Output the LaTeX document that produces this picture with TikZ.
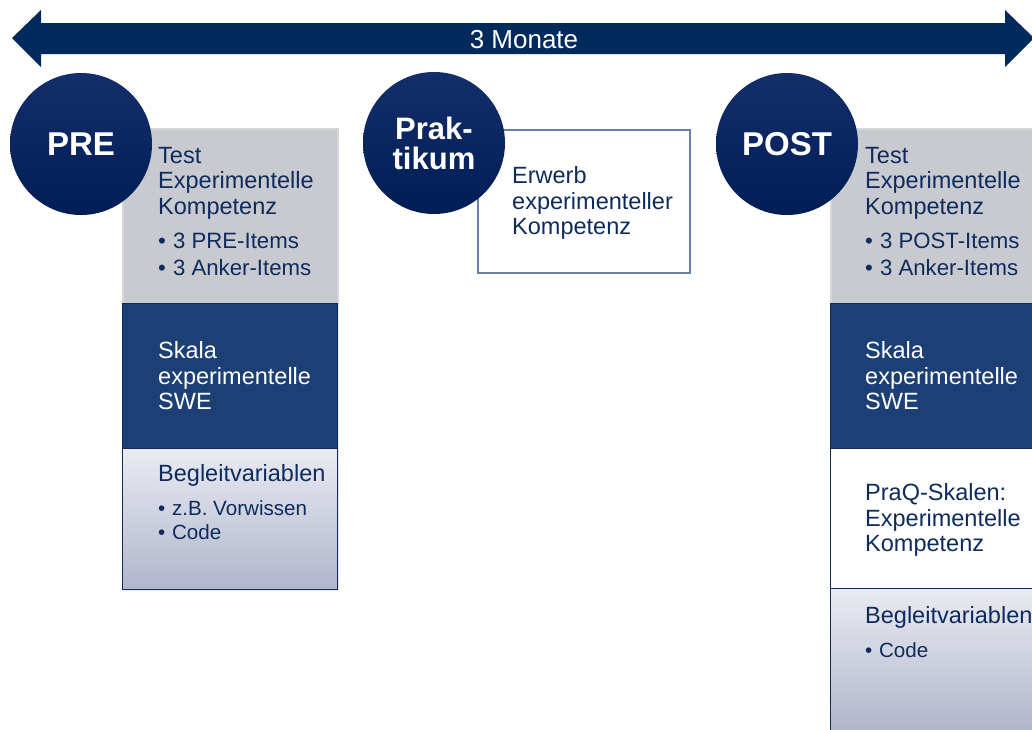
\documentclass[tikz,border=0pt]{standalone}
\usepackage{fontspec}
\setmainfont{Liberation Sans}
\usetikzlibrary{positioning, shadows}

\definecolor{arrownavy}{RGB}{0,41,92}
\definecolor{circtop}{RGB}{20,46,106}
\definecolor{circbot}{RGB}{0,29,86}
\definecolor{textnavy}{RGB}{14,43,94}
\definecolor{testgray}{RGB}{201,202,207}
\definecolor{testline}{RGB}{214,215,219}
\definecolor{swenavy}{RGB}{28,63,117}
\definecolor{sweline}{RGB}{16,42,92}
\definecolor{begtop}{RGB}{234,235,242}
\definecolor{begbot}{RGB}{175,181,203}
\definecolor{praxline}{RGB}{104,128,166}

\newcommand{\itm}{\textbullet\hspace{0.32em}}

\tikzset{
	phase/.style={circle, minimum size=142pt, inner sep=0pt, top color=circtop, bottom color=circbot,
		text=white, align=center, font=\fontsize{33}{30}\bfseries\selectfont},
	colbox/.style={rectangle, anchor=north west, inner sep=0pt, minimum width=215pt},
	shade box/.style={drop shadow={shadow xshift=1.5pt, shadow yshift=-2pt, opacity=0.18}},
	testbox/.style={colbox, fill=testgray, draw=testline, line width=1.5pt},
	swebox/.style={colbox, fill=swenavy, draw=sweline, line width=1.2pt},
	begbox/.style={colbox, top color=begtop, bottom color=begbot, draw=sweline, line width=1.2pt},
	praqbox/.style={colbox, fill=white, draw=sweline, line width=1.2pt},
	txt/.style={anchor=west, inner sep=0pt, align=left, text=textnavy, font=\fontsize{23.5}{25.5}\selectfont},
	items/.style={txt, font=\fontsize{22.2}{27}\selectfont},
	smallitems/.style={txt, font=\fontsize{20.6}{24}\selectfont}
}

\begin{document}
\begin{tikzpicture}[x=1pt, y=-1pt]
	\useasboundingbox (0,0) rectangle (1032,729);
	\clip (0,0) rectangle (1032,729);

	% Zeitachse
	\fill[arrownavy] (12,38) -- (41,10) -- (41,23) -- (1005,23) -- (1005,10) -- (1034,38)
		-- (1005,67) -- (1005,54) -- (41,54) -- (41,67) -- cycle;
	\node[text=white, font=\fontsize{26}{28}\selectfont] (dauer) at (524,40) {3 Monate};

	% PRE
	\node[colbox, minimum height=461pt, shade box, fill=white] (precol) at (122,128) {};
	\node[testbox, minimum height=175pt] (pretest) at (122,128) {};
	\node[swebox, minimum height=145pt] (preswe) at (122,303) {};
	\node[begbox, minimum height=141pt] (prebeg) at (122,448) {};
	\node[phase] (pre) at (81,144) {PRE};

	\node[txt] (pretesttext) at (158,183) {Test\\Experimentelle\\Kompetenz};
	\node[items] (preitems) at (158,254) {\itm 3 PRE-Items\\\itm 3 Anker-Items};
	\node[txt, text=white] (preswetext) at (158,376) {Skala\\experimentelle\\SWE};
	\node[txt] (prebegtext) at (158,475) {Begleitvariablen};
	\node[smallitems] (prebegitems) at (158,520) {\itm z.B. Vorwissen\\\itm Code};

	% Praktikum
	\node[colbox, minimum width=212pt, minimum height=143pt, draw=praxline, line width=1.5pt] (praxbox) at (477,129) {};
	\node[phase, font=\fontsize{31}{30}\bfseries\selectfont] (prax) at (434,143) {Prak-\\tikum};
	\node[txt] (erwerbtext) at (512,203) {Erwerb\\experimenteller\\Kompetenz};

	% POST
	\node[colbox, minimum height=610pt, shade box, fill=white] (postcol) at (830,128) {};
	\node[testbox, minimum height=175pt] (posttest) at (830,128) {};
	\node[swebox, minimum height=145pt] (postswe) at (830,303) {};
	\node[praqbox, minimum height=140pt] (postpraq) at (830,448) {};
	\node[begbox, minimum height=144pt] (postbeg) at (830,588) {};
	\node[phase] (post) at (787,144) {POST};

	\node[txt] (posttesttext) at (865,183) {Test\\Experimentelle\\Kompetenz};
	\node[items] (postitems) at (865,254) {\itm 3 POST-Items\\\itm 3 Anker-Items};
	\node[txt, text=white] (postswetext) at (865,376) {Skala\\experimentelle\\SWE};
	\node[txt] (postpraqtext) at (865,520) {PraQ-Skalen:\\Experimentelle\\Kompetenz};
	\node[txt] (postbegtext) at (865,617) {Begleitvariablen};
	\node[smallitems] (postbegitems) at (865,650) {\itm Code};
\end{tikzpicture}
\end{document}
